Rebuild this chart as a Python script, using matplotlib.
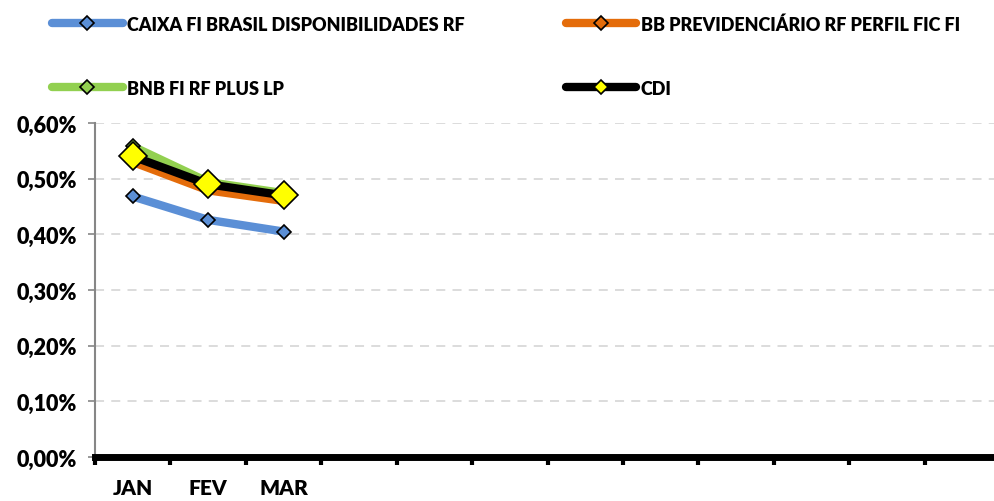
import numpy as np
import matplotlib.pyplot as plt
from matplotlib.ticker import FuncFormatter

plt.rcParams['font.family'] = ['Lato', 'DejaVu Sans']
plt.rcParams['font.weight'] = 'heavy'

meses = ['JAN', 'FEV', 'MAR', '', '', '', '', '', '', '', '', '']
caixa = [0.468, 0.426, 0.405]
bb = [0.530, 0.479, 0.460]
bnb = [0.558, 0.494, 0.474]
cdi = [0.540, 0.490, 0.470]

fig = plt.figure(figsize=(9.95, 5.02), dpi=100)
ax = fig.add_axes([95 / 995, (502 - 458) / 502, 905 / 995, 334 / 502])

x = np.arange(3)
ax.plot(x, bnb, color='#92D050', lw=6, solid_capstyle='round', marker='D', ms=7,
        mfc='#92D050', mec='black', mew=1.2, label='BNB FI RF PLUS LP', zorder=3)
ax.plot(x, bb, color='#E46C0A', lw=6, solid_capstyle='round', marker='D', ms=7,
        mfc='#E46C0A', mec='black', mew=1.2, label='BB PREVIDENCIÁRIO RF PERFIL FIC FI', zorder=4)
ax.plot(x, caixa, color='#5B8FD6', lw=6, solid_capstyle='round', marker='D', ms=7,
        mfc='#5B8FD6', mec='black', mew=1.2, label='CAIXA FI BRASIL DISPONIBILIDADES RF', zorder=4)
ax.plot(x, cdi, color='black', lw=6, solid_capstyle='round', marker='D', ms=14,
        mfc='#FFFF00', mec='black', mew=1.2, label='CDI', zorder=5)

ax.set_xlim(-0.5, 11.5)
ax.set_ylim(0, 0.6)
ax.set_yticks(np.arange(0, 0.61, 0.1))
ax.yaxis.set_major_formatter(FuncFormatter(lambda v, p: f'{v:.2f}%'.replace('.', ',')))
ax.set_xticks(np.arange(12))
ax.set_xticklabels(meses)
ax.set_xticks(np.arange(-0.5, 12, 1), minor=True)
ax.tick_params(axis='x', which='major', length=0, pad=15, labelsize=15)
ax.tick_params(axis='x', which='minor', length=6, width=3, color='black', direction='out')
ax.tick_params(axis='y', length=5, width=1.2, color='#868686', labelsize=15.5, pad=8)

ax.grid(axis='y', color='#D9D9D9', linestyle=(0, (5, 4)), lw=1.3)
ax.set_axisbelow(True)
for s in ['top', 'right']:
    ax.spines[s].set_visible(False)
ax.spines['left'].set_color('#868686')
ax.spines['left'].set_linewidth(1.5)
ax.spines['bottom'].set_color('black')
ax.spines['bottom'].set_linewidth(5)
ax.spines['bottom'].set_zorder(6)

handles, labels = ax.get_legend_handles_labels()
order = [2, 0, 1, 3]
leg = fig.legend([handles[i] for i in order], [labels[i] for i in order],
                 loc='upper left', bbox_to_anchor=(36 / 995, 1.0), ncol=2,
                 frameon=False, fontsize=13, handlelength=3.9, handletextpad=0.25,
                 columnspacing=5.6, labelspacing=2.6)
for h in leg.legend_handles:
    h.set_markersize(7)

fig.savefig('out.png', dpi=100)
